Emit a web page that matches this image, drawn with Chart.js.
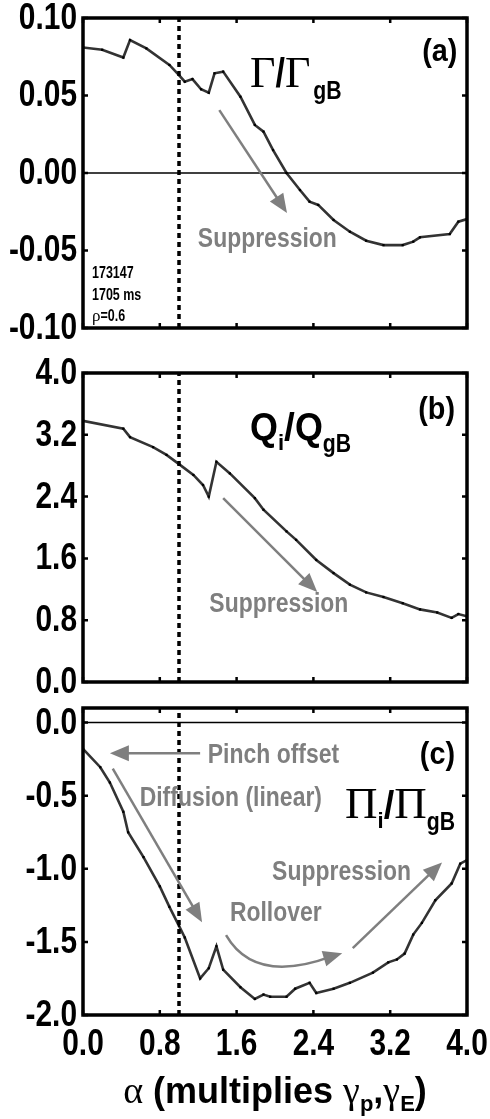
<!DOCTYPE html>
<html>
<head>
<meta charset="utf-8">
<script src="https://cdn.jsdelivr.net/npm/chart.js@4.4.1/dist/chart.umd.min.js"></script>
<style>
  html, body { margin: 0; padding: 0; background: #fff; }
  #wrap { position: relative; width: 490px; height: 1119px; overflow: hidden; }
  canvas { position: absolute; left: 0; }
</style>
</head>
<body>
<div id="wrap">
  <canvas id="chartA" width="490" height="360" style="top:0px"></canvas>
  <canvas id="chartB" width="490" height="370" style="top:340px"></canvas>
  <canvas id="chartC" width="490" height="439" style="top:680px"></canvas>
</div>
<script>
// alpha (multiplies gamma_p, gamma_E) and fluxes
const alphaA = [0.00, 0.20, 0.42, 0.49, 0.66, 0.90, 1.00, 1.06, 1.14, 1.23, 1.31, 1.37, 1.46, 1.64, 1.79, 1.88, 1.98, 2.12, 2.26, 2.36, 2.45, 2.61, 2.78, 2.95, 3.13, 3.33, 3.44, 3.51, 3.82, 3.91, 4.00];
const gammaA = [0.0810, 0.0795, 0.0745, 0.0858, 0.0804, 0.0697, 0.0632, 0.0589, 0.0606, 0.0540, 0.0518, 0.0643, 0.0654, 0.0492, 0.0310, 0.0267, 0.0148, 0.0000, -0.0110, -0.0185, -0.0206, -0.0303, -0.0379, -0.0437, -0.0465, -0.0465, -0.0443, -0.0415, -0.0394, -0.0314, -0.0297];

const alphaB = [0.00, 0.42, 0.49, 0.73, 0.87, 1.00, 1.15, 1.25, 1.31, 1.39, 1.53, 1.79, 1.88, 2.12, 2.22, 2.43, 2.61, 2.78, 2.95, 3.13, 3.33, 3.51, 3.69, 3.84, 3.91, 4.00];
const qB = [3.38, 3.28, 3.17, 3.04, 2.94, 2.82, 2.68, 2.55, 2.40, 2.85, 2.70, 2.38, 2.23, 1.95, 1.84, 1.58, 1.41, 1.26, 1.16, 1.10, 1.02, 0.94, 0.90, 0.83, 0.88, 0.85];

const alphaC = [0.00, 0.18, 0.28, 0.42, 0.47, 0.63, 0.80, 0.90, 1.00, 1.06, 1.22, 1.31, 1.39, 1.46, 1.64, 1.79, 1.88, 1.95, 2.12, 2.21, 2.36, 2.43, 2.61, 2.78, 3.02, 3.18, 3.27, 3.35, 3.44, 3.53, 3.67, 3.84, 3.93, 4.00];
const piC = [-0.18, -0.305, -0.41, -0.61, -0.75, -0.92, -1.12, -1.26, -1.39, -1.47, -1.75, -1.68, -1.53, -1.69, -1.81, -1.89, -1.86, -1.875, -1.875, -1.82, -1.78, -1.85, -1.82, -1.78, -1.71, -1.64, -1.62, -1.58, -1.45, -1.37, -1.215, -1.10, -0.965, -0.94];

const xTicks = [0.0, 0.8, 1.6, 2.4, 3.2, 4.0];
const yTicksA = [-0.10, -0.05, 0.00, 0.05, 0.10];
const yTicksB = [0.0, 0.8, 1.6, 2.4, 3.2, 4.0];
const yTicksC = [-2.0, -1.5, -1.0, -0.5, 0.0];
const alphaRef = 1.0;

const SANS = "'Liberation Sans', Arial, Helvetica, sans-serif";
const SERIF = "'Liberation Serif', 'Times New Roman', serif";
const GRAY = '#7f7f7f';

function pt(chart, a, v) {
  return [chart.scales.x.getPixelForValue(a), chart.scales.y.getPixelForValue(v)];
}

// bold sans squeezed sideways, to look like condensed Helvetica
function narrowText(ctx, txt, x, y, size, align, baseline, sx) {
  ctx.save();
  ctx.font = `bold ${size}px ${SANS}`;
  ctx.translate(x, y);
  ctx.scale(sx || 0.82, 1);
  ctx.textAlign = align || 'left';
  ctx.textBaseline = baseline || 'alphabetic';
  ctx.fillText(txt, 0, 0);
  ctx.restore();
}

function drawRuns(ctx, x, y, runs) {
  runs.forEach(r => {
    const sx = r.sx || 1;
    ctx.save();
    ctx.font = r.font;
    ctx.translate(x, y + (r.dy || 0));
    ctx.scale(sx, 1);
    ctx.fillText(r.t, 0, 0);
    x += ctx.measureText(r.t).width * sx + (r.dx || 0);
    ctx.restore();
  });
}

function runsWidth(ctx, runs) {
  let w = 0;
  runs.forEach(r => { ctx.font = r.font; w += ctx.measureText(r.t).width * (r.sx || 1) + (r.dx || 0); });
  return w;
}

function arrowHead(ctx, x1, y1, x2, y2) {
  const ang = Math.atan2(y2 - y1, x2 - x1);
  const len = 19, half = 8;
  ctx.beginPath();
  ctx.moveTo(x2, y2);
  ctx.lineTo(x2 - len * Math.cos(ang) + half * Math.sin(ang), y2 - len * Math.sin(ang) - half * Math.cos(ang));
  ctx.lineTo(x2 - len * Math.cos(ang) - half * Math.sin(ang), y2 - len * Math.sin(ang) + half * Math.cos(ang));
  ctx.closePath();
  ctx.fill();
}

function arrow(chart, a1, v1, a2, v2) {
  const ctx = chart.ctx;
  const [x1, y1] = pt(chart, a1, v1);
  const [x2, y2] = pt(chart, a2, v2);
  const ang = Math.atan2(y2 - y1, x2 - x1);
  ctx.save();
  ctx.strokeStyle = GRAY;
  ctx.fillStyle = GRAY;
  ctx.lineWidth = 2.5;
  ctx.beginPath();
  ctx.moveTo(x1, y1);
  ctx.lineTo(x2 - 12 * Math.cos(ang), y2 - 12 * Math.sin(ang));
  ctx.stroke();
  arrowHead(ctx, x1, y1, x2, y2);
  ctx.restore();
}

function grayText(chart, txt, a, v, align) {
  const ctx = chart.ctx;
  const [x, y] = pt(chart, a, v);
  ctx.save();
  ctx.fillStyle = GRAY;
  narrowText(ctx, txt, x, y, 27, align, 'middle', 0.85);
  ctx.restore();
}

function panelLabel(chart, txt, a, v) {
  const ctx = chart.ctx;
  const [x, y] = pt(chart, a, v);
  ctx.save();
  ctx.fillStyle = '#000';
  narrowText(ctx, txt, x, y, 32, 'right', 'middle', 0.9);
  ctx.restore();
}

// box round the plot area, inward ticks on all four sides, tick labels
const framePlugin = {
  id: 'frame',
  afterDraw(chart, args, opts) {
    const { ctx, chartArea: area, scales: { x, y } } = chart;
    ctx.save();
    ctx.strokeStyle = '#000';
    ctx.lineWidth = 2.5;
    ctx.beginPath();
    xTicks.forEach(v => {
      const px = x.getPixelForValue(v);
      ctx.moveTo(px, area.top); ctx.lineTo(px, area.top + 5);
      ctx.moveTo(px, area.bottom); ctx.lineTo(px, area.bottom - 5);
    });
    y.ticks.forEach(t => {
      const py = y.getPixelForValue(t.value);
      ctx.moveTo(area.left, py); ctx.lineTo(area.left + 5, py);
      ctx.moveTo(area.right, py); ctx.lineTo(area.right - 5, py);
    });
    ctx.stroke();
    ctx.lineWidth = 3.5;
    ctx.strokeRect(area.left, area.top, area.right - area.left, area.bottom - area.top);

    ctx.fillStyle = '#000';
    y.ticks.forEach(t => {
      narrowText(ctx, t.value.toFixed(opts.decimals), area.left - 6, y.getPixelForValue(t.value) + 1, 36, 'right', 'middle', 0.83);
    });
    if (opts.showX) {
      xTicks.forEach(v => {
        narrowText(ctx, v.toFixed(1), x.getPixelForValue(v), area.bottom + 40, 36, 'center', 'alphabetic', 0.83);
      });
    }
    ctx.restore();
  }
};

function buildPanel(id, cfg) {
  const datasets = [];
  if (cfg.zeroLine) {
    datasets.push({
      data: [{ x: 0, y: 0 }, { x: 4, y: 0 }],
      borderColor: '#000', borderWidth: 1.5, pointRadius: 0
    });
  }
  datasets.push({
    data: [{ x: alphaRef, y: cfg.min }, { x: alphaRef, y: cfg.max }],
    borderColor: '#000', borderWidth: 3.5, borderDash: [5, 4], pointRadius: 0
  });
  datasets.push({
    data: cfg.xs.map((a, i) => ({ x: a, y: cfg.ys[i] })),
    borderColor: '#333', borderWidth: 2.6, tension: 0,
    pointStyle: 'rect', pointRadius: 1.6, pointBackgroundColor: '#000', pointBorderWidth: 0
  });

  return new Chart(document.getElementById(id), {
    type: 'line',
    data: { datasets },
    options: {
      responsive: false,
      animation: false,
      events: [],
      layout: { padding: cfg.padding },
      plugins: {
        legend: { display: false },
        tooltip: { enabled: false },
        frame: { decimals: cfg.decimals, showX: cfg.showX }
      },
      scales: {
        x: {
          type: 'linear', min: 0, max: 4,
          display: false,
          afterBuildTicks: s => { s.ticks = xTicks.map(v => ({ value: v })); }
        },
        y: {
          type: 'linear', min: cfg.min, max: cfg.max,
          afterBuildTicks: s => { s.ticks = cfg.yTicks.map(v => ({ value: v })); },
          afterFit: s => { s.width = 83; },
          grid: { display: false, drawTicks: false },
          border: { display: false },
          ticks: { display: false }
        }
      }
    },
    plugins: [framePlugin, { id: 'notes', afterDatasetsDraw: cfg.notes }]
  });
}

buildPanel('chartA', {
  xs: alphaA, ys: gammaA, min: -0.1, max: 0.1, yTicks: yTicksA, decimals: 2,
  zeroLine: true, showX: false,
  padding: { top: 18, bottom: 32, left: 0, right: 23 },
  notes(chart) {
    const ctx = chart.ctx;
    panelLabel(chart, '(a)', 3.9, 0.078);
    ctx.save();
    ctx.fillStyle = '#000';
    ctx.textBaseline = 'alphabetic';
    let [x, y] = pt(chart, 1.74, 0.0555);
    drawRuns(ctx, x, y, [
      { t: 'Γ', font: `44px ${SERIF}` },
      { t: '/', font: `bold 40px ${SANS}`, sx: 0.85 },
      { t: 'Γ', font: `44px ${SERIF}`, dx: 3 },
      { t: 'gB', font: `bold 25px ${SANS}`, sx: 0.85, dy: 12 }
    ]);
    ctx.textBaseline = 'middle';
    [x, y] = pt(chart, 0.094, -0.0652);
    drawRuns(ctx, x, y, [{ t: '173147', font: `bold 16px ${SANS}`, sx: 0.78 }]);
    [x, y] = pt(chart, 0.094, -0.0794);
    drawRuns(ctx, x, y, [{ t: '1705 ms', font: `bold 16px ${SANS}`, sx: 0.78 }]);
    [x, y] = pt(chart, 0.094, -0.0929);
    drawRuns(ctx, x, y, [{ t: 'ρ', font: `17px ${SERIF}` }, { t: '=0.6', font: `bold 16px ${SANS}`, sx: 0.78 }]);
    ctx.restore();
    arrow(chart, 1.42, 0.0406, 2.125, -0.0258);
    grayText(chart, 'Suppression', 1.92, -0.0432, 'center');
  }
});

buildPanel('chartB', {
  xs: alphaB, ys: qB, min: 0, max: 4, yTicks: yTicksB, decimals: 1,
  zeroLine: false, showX: false,
  padding: { top: 33, bottom: 28, left: 0, right: 23 },
  notes(chart) {
    const ctx = chart.ctx;
    panelLabel(chart, '(b)', 3.875, 3.52);
    ctx.save();
    ctx.fillStyle = '#000';
    ctx.textBaseline = 'alphabetic';
    const [x, y] = pt(chart, 1.74, 3.13);
    drawRuns(ctx, x, y, [
      { t: 'Q', font: `bold 39px ${SANS}`, sx: 0.92 },
      { t: 'i', font: `bold 22px ${SANS}`, dy: 10 },
      { t: '/', font: `bold 39px ${SANS}` },
      { t: 'Q', font: `bold 39px ${SANS}`, sx: 0.92 },
      { t: 'gB', font: `bold 25px ${SANS}`, sx: 0.85, dy: 12 }
    ]);
    ctx.restore();
    arrow(chart, 1.46, 2.38, 2.44, 1.165);
    grayText(chart, 'Suppression', 2.04, 1.0, 'center');
  }
});

buildPanel('chartC', {
  xs: alphaC, ys: piC, min: -2.0, max: 0.1, yTicks: yTicksC, decimals: 1,
  zeroLine: true, showX: true,
  padding: { top: 28, bottom: 104, left: 0, right: 23 },
  notes(chart) {
    const ctx = chart.ctx;
    panelLabel(chart, '(c)', 3.875, -0.225);
    ctx.save();
    ctx.fillStyle = '#000';
    ctx.textBaseline = 'alphabetic';
    let [x, y] = pt(chart, 2.73, -0.655);
    drawRuns(ctx, x, y, [
      { t: 'Π', font: `45px ${SERIF}` },
      { t: 'i', font: `bold 22px ${SANS}`, dy: 10 },
      { t: '/', font: `bold 38px ${SANS}` },
      { t: 'Π', font: `45px ${SERIF}` },
      { t: 'gB', font: `bold 25px ${SANS}`, sx: 0.85, dy: 12 }
    ]);
    // x axis title
    const title = [
      { t: 'α', font: `38px ${SERIF}` },
      { t: ' (multiplies ', font: `bold 36px ${SANS}` },
      { t: 'γ', font: `38px ${SERIF}` },
      { t: 'p', font: `bold 22px ${SANS}`, dy: 8 },
      { t: ',', font: `bold 36px ${SANS}` },
      { t: 'γ', font: `38px ${SERIF}` },
      { t: 'E', font: `bold 22px ${SANS}`, dy: 8 },
      { t: ')', font: `bold 36px ${SANS}` }
    ];
    const area = chart.chartArea;
    const w = runsWidth(ctx, title);
    drawRuns(ctx, (area.left + area.right) / 2 - w / 2, area.bottom + 88, title);
    ctx.restore();

    arrow(chart, 1.22, -0.21, 0.28, -0.21);
    grayText(chart, 'Pinch offset', 1.30, -0.225);
    arrow(chart, 0.31, -0.314, 1.24, -1.365);
    grayText(chart, 'Diffusion (linear)', 0.59, -0.52);
    arrow(chart, 2.81, -1.543, 3.74, -0.956);
    grayText(chart, 'Suppression', 1.97, -1.024);
    grayText(chart, 'Rollover', 1.53, -1.304);

    // curved rollover arrow
    const [sx, sy] = pt(chart, 1.49, -1.454);
    const [cx, cy] = pt(chart, 1.79, -1.795);
    const [ex, ey] = pt(chart, 2.70, -1.577);
    ctx.save();
    ctx.strokeStyle = GRAY;
    ctx.fillStyle = GRAY;
    ctx.lineWidth = 2.5;
    ctx.beginPath();
    ctx.moveTo(sx, sy);
    ctx.quadraticCurveTo(cx, cy, ex - 10, ey + 3);
    ctx.stroke();
    arrowHead(ctx, ex - 20, ey + 6, ex, ey);
    ctx.restore();
  }
});
</script>
</body>
</html>
